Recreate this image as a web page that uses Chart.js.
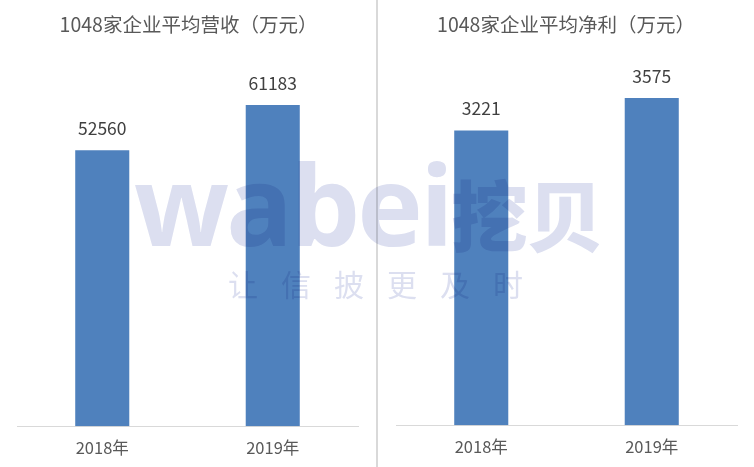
<!DOCTYPE html>
<html>
<head>
<meta charset="utf-8">
<script src="https://cdn.jsdelivr.net/npm/chart.js@4.4.1/dist/chart.umd.min.js"></script>
<style>
  html, body { margin: 0; padding: 0; background: #fff; }
  #wrap { position: relative; width: 754px; height: 467px; overflow: hidden; }
  .box { position: absolute; top: 0; height: 467px; }
  #left { left: 0; width: 377px; }
  #right { left: 378px; width: 376px; }
  #divider { position: absolute; left: 376px; top: 0; width: 2px; height: 467px; background: #d9d9d9; }
  .title { position: absolute; top: 9px; width: 100%; text-align: center; font: 19.5px "Noto Sans CJK SC", sans-serif; color: #595959; }
  #wm { position: absolute; left: 0; top: 0; width: 754px; height: 467px; pointer-events: none; mix-blend-mode: multiply; }
  #wm1 { position: absolute; left: 134px; top: 148px; font: bold 111px "Open Sans", sans-serif; letter-spacing: -3px; color: #dcdff0; white-space: nowrap; line-height: 1; }
  #wm1 span { font-family: "Noto Sans CJK SC"; font-weight: 900; font-size: 77px; letter-spacing: -1px; }
  #wm2 { position: absolute; left: 228px; top: 268px; font: 30px "Noto Sans CJK SC", sans-serif; letter-spacing: 23px; color: #dcdff0; white-space: nowrap; line-height: 1; }
</style>
</head>
<body>
<div id="wrap">
  <div class="box" id="left"><canvas id="c1" width="377" height="467"></canvas><div class="title">1048家企业平均营收（万元）</div></div>
  <div id="divider"></div>
  <div class="box" id="right"><canvas id="c2" width="376" height="467"></canvas><div class="title">1048家企业平均净利（万元）</div></div>
  <div id="wm"><div id="wm1">wabei<span>挖贝</span></div><div id="wm2">让信披更及时</div></div>
</div>
<script>
var years = ['2018年', '2019年'];
var revenue = [52560, 61183];
var profit = [3221, 3575];

var valueLabels = {
    id: 'valueLabels',
    afterDatasetsDraw: function (chart) {
        var ctx = chart.ctx;
        var meta = chart.getDatasetMeta(0);
        ctx.save();
        ctx.font = '17.5px "Noto Sans CJK SC", sans-serif';
        ctx.fillStyle = '#404040';
        ctx.textAlign = 'center';
        ctx.textBaseline = 'middle';
        meta.data.forEach(function (bar, i) {
            ctx.fillText(String(chart.data.datasets[0].data[i]), bar.x, bar.y - 22);
        });
        ctx.restore();
    }
};

function makeChart(id, values, yMax, padLeft, padRight, padBottom) {
    return new Chart(document.getElementById(id), {
        type: 'bar',
        data: {
            labels: years,
            datasets: [{
                data: values,
                backgroundColor: '#4f81bd',
                barPercentage: 1,
                categoryPercentage: 0.317
            }]
        },
        options: {
            responsive: false,
            animation: false,
            layout: { padding: { top: 40, left: padLeft, right: padRight, bottom: padBottom } },
            plugins: { legend: { display: false }, tooltip: { enabled: false } },
            scales: {
                x: {
                    grid: { display: false },
                    border: { color: '#d9d9d9', width: 1 },
                    ticks: { color: '#595959', font: { size: 16.5, family: '"Noto Sans CJK SC", sans-serif' }, padding: 4 }
                },
                y: { display: false, min: 0, max: yMax }
            }
        },
        plugins: [valueLabels]
    });
}

makeChart('c1', revenue, 73570, 17, 19, 5);
makeChart('c2', profit, 4210, 18, 17, 6);
</script>
</body>
</html>
